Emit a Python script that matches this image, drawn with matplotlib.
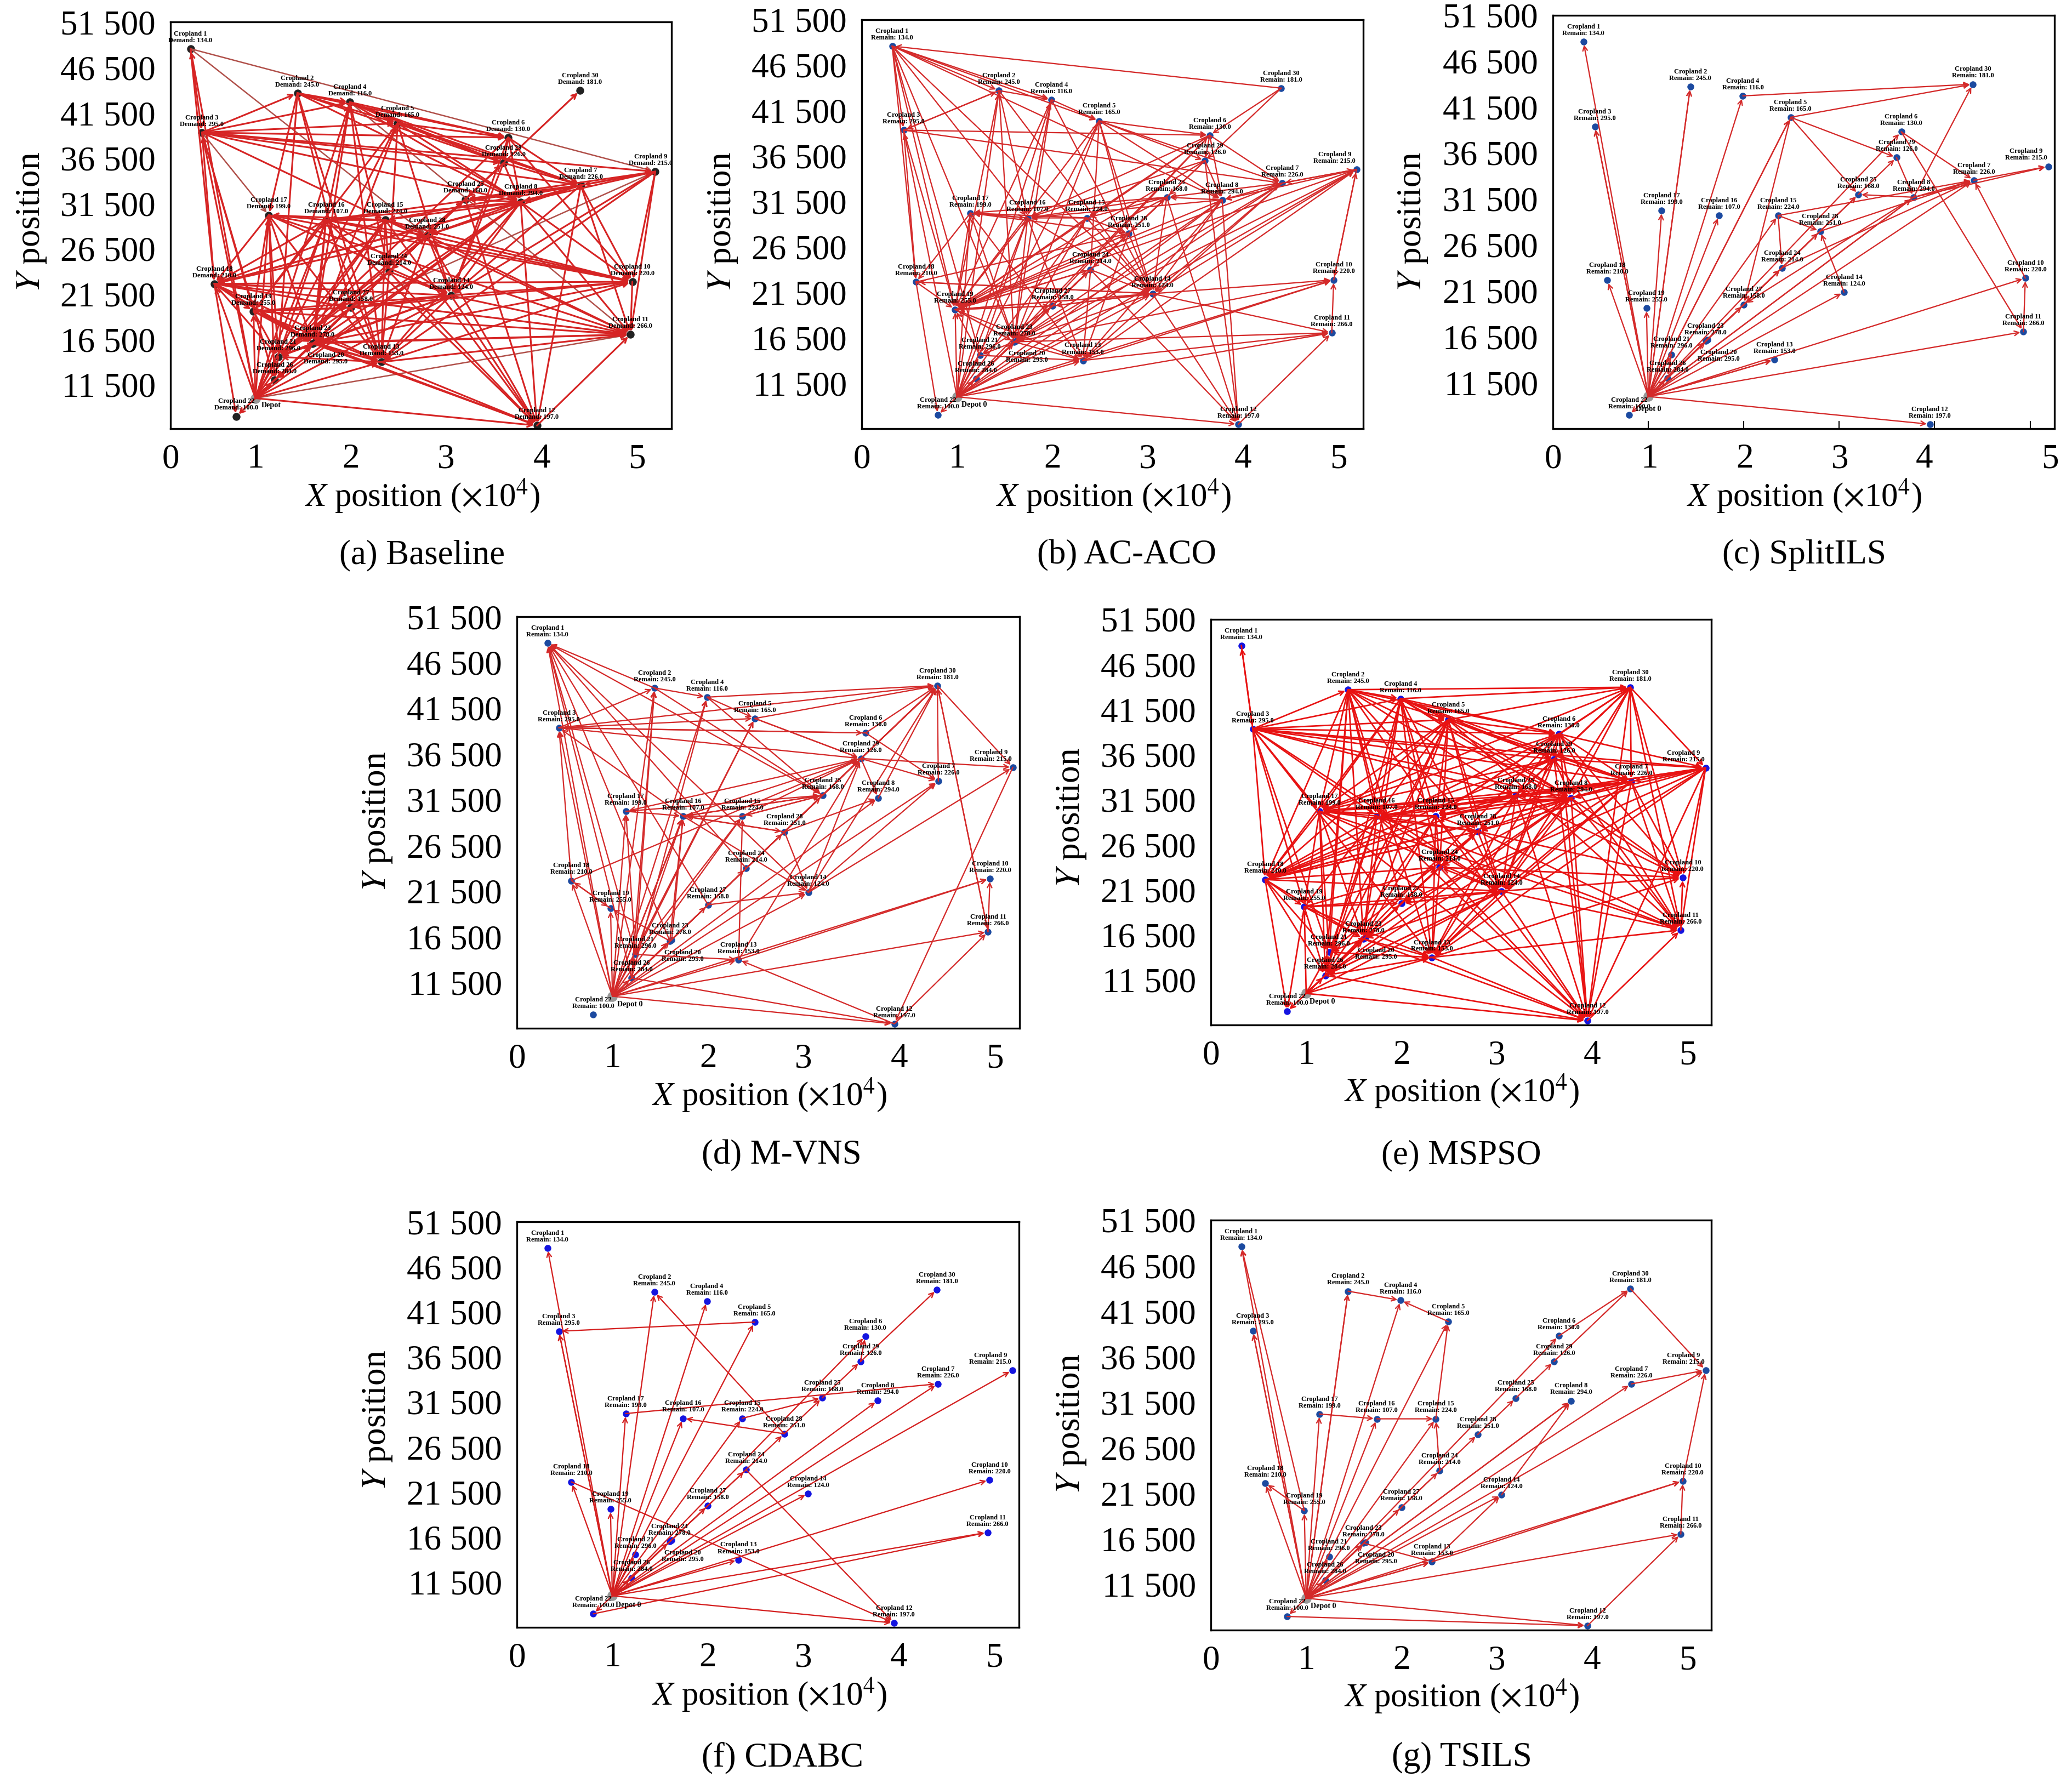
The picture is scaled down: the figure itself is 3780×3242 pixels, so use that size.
import matplotlib
matplotlib.use('Agg')
import matplotlib.pyplot as plt

plt.rcParams['font.family'] = ['Liberation Serif', 'DejaVu Serif']
plt.rcParams['mathtext.fontset'] = 'stix'

W, H = 3780, 3242
DPI = 300

# node data, x in 1e4 units, id 0 is the depot
node_x = [1.00, 0.32, 1.44, 0.44, 1.99, 2.49, 3.65, 4.41, 3.78, 5.19, 4.95,
          4.93, 3.95, 2.32, 3.05, 2.36, 1.74, 1.14, 0.57, 0.98, 1.62,
          1.24, 0.80, 1.60, 2.40, 3.20, 1.20, 2.00, 2.80, 3.60, 4.40]
node_y = [10000, 48600, 43700, 39350, 42700, 40370, 38790, 33520, 31670, 35030, 22870,
          17040, 6980, 14000, 21350, 29690, 29690, 30220, 22640, 19610, 16150,
          14570, 8000, 16050, 23990, 31970, 12000, 20000, 27980, 35990, 43970]
node_val = [0, 134, 245, 295, 116, 165, 130, 226, 294, 215, 220,
            266, 197, 153, 124, 224, 107, 199, 210, 255, 295,
            296, 100, 278, 214, 168, 284, 158, 251, 126, 181]

y_ticks = [11500, 16500, 21500, 26500, 31500, 36500, 41500, 46500]
y_labels = ['11 500', '16 500', '21 500', '26 500', '31 500', '36 500', '41 500', '46 500', '51 500']
x_labels = ['0', '1', '2', '3', '4', '5']

# routes per panel: source node -> nodes it has an arrow to
edges_a = {
    0: [1, 3, 18, 19, 21, 26, 23, 20, 27, 24, 28, 25, 29, 14, 13, 16, 15, 17, 4, 5, 8, 22, 12],
    1: [3, 18],
    3: [2, 4, 5, 6, 29, 9, 7, 8, 15, 18, 19, 26],
    2: [4, 5, 6, 29, 17, 21, 27, 13, 8],
    4: [5, 6, 29, 7, 8, 16, 23, 13, 24],
    5: [6, 29, 7, 8, 24, 14, 19, 23],
    6: [29, 7, 8, 14, 10, 21],
    29: [30, 7, 8, 25, 28, 26, 14],
    7: [9, 8, 25, 10, 11, 12, 14, 16, 15, 18, 28],
    9: [8, 10, 11, 25, 14, 13, 7],
    8: [15, 16, 25, 10, 11, 12, 14, 13, 23, 18, 26, 28],
    25: [28, 24, 23, 12, 21, 20],
    15: [16, 17, 28, 24, 12, 11, 10, 18, 23, 13, 21],
    16: [17, 18, 19, 14, 13, 12, 20, 28, 10, 21, 23],
    17: [18, 19, 21, 23, 14, 13, 10, 11, 26],
    18: [19, 14, 10, 11, 23, 20, 21, 22, 27, 13],
    19: [23, 20, 27, 14, 13, 11, 21],
    28: [27, 24, 23, 21, 20, 13, 14, 10, 11, 12, 18],
    24: [27, 14, 23, 20, 21, 26, 13, 12],
    14: [27, 10, 11, 12, 13, 23, 21],
    27: [23, 20, 21, 19, 13, 10, 14],
    23: [20, 21, 13, 12, 11, 26, 10],
    20: [21, 26, 13, 12, 11],
    13: [12, 11, 10, 21],
    21: [26],
    10: [11],
    12: [11],
}
muted_a = {1: [9, 28], 0: [11], 3: [17], 29: [30], 4: [11], 18: [11], 27: [9], 28: [10]}

edges_b = {
    0: [22, 12, 3, 19, 17, 2, 4, 5, 16, 23, 20, 26, 21, 15, 27, 24, 28, 25, 6, 8, 7, 14, 13, 10, 11, 9],
    1: [2, 4, 3, 18, 19, 21, 23, 16, 14, 5, 8],
    30: [1, 6, 29],
    2: [4, 3, 19, 23, 16, 14],
    3: [2, 6, 7, 18, 19],
    4: [5, 16, 23, 19, 14],
    5: [6, 29, 7, 8, 24, 19, 23, 28, 14],
    6: [7, 29, 8, 23, 16, 15, 19],
    29: [25, 8, 23, 19, 12, 16],
    7: [9, 25, 8, 19, 23, 14, 13],
    9: [10, 7, 8, 14, 23, 19],
    8: [25, 12, 19, 23, 16, 14, 13],
    25: [19, 23, 16, 17, 14, 15, 28, 12],
    15: [16, 17, 23, 19, 28, 14],
    16: [17, 23, 19, 14, 13, 21],
    17: [18, 19, 23, 16, 13],
    18: [19, 22, 14, 28],
    19: [23, 27, 14, 24, 13],
    28: [19, 23, 14, 24, 13, 17],
    24: [23, 19, 14, 12, 13],
    14: [19, 23, 27, 10, 11, 18, 12],
    27: [19, 23, 14, 21],
    23: [19, 13, 11, 21, 10],
    21: [13, 19],
    13: [11, 10, 9],
    12: [11],
    11: [10],
    10: [9],
}

edges_c = {
    0: [1, 3, 3, 2, 2, 4, 17, 16, 18, 19, 5, 5, 21, 26, 23, 20, 27, 24, 15, 28, 8, 8, 7, 14, 13, 13, 10, 11, 12, 22, 6, 25],
    21: [26],
    5: [27, 30, 29, 25],
    4: [30],
    6: [7, 11],
    25: [29],
    15: [24, 28, 7],
    28: [7, 27, 25],
    8: [30, 25, 7, 9, 27],
    7: [9],
    14: [28],
    10: [7],
    11: [10],
    29: [8],
    27: [24],
    24: [7],
    23: [28],
}

edges_d = {
    0: [3, 17, 18, 19, 21, 26, 23, 20, 27, 24, 28, 25, 29, 16, 16, 16, 4, 2, 5, 8, 7, 13, 14, 10, 11, 12, 15, 1],
    26: [1, 4, 2, 12, 21],
    21: [1, 2, 5, 13, 15, 16, 17],
    23: [1, 19, 16],
    27: [1, 14, 29],
    24: [1, 29, 30],
    14: [1, 7, 9, 29, 30],
    25: [1, 30, 29, 15, 16],
    2: [1, 4, 25],
    3: [2, 5, 30, 29, 6],
    16: [3, 14, 28, 29, 25],
    6: [3, 30, 7],
    4: [5, 30, 25],
    5: [30, 29, 29],
    29: [30, 30, 30, 8, 9, 7, 17],
    28: [30, 29, 8, 14, 16],
    7: [30],
    30: [9, 11],
    8: [30],
    11: [30, 10],
    13: [10, 15, 29],
    9: [12],
    12: [11, 13],
    18: [3, 19, 29],
    19: [18],
    17: [16, 25],
    15: [16, 25, 29],
    20: [16],
}

edges_e = {
    0: [19, 22, 26, 21, 23, 20, 27, 24, 12, 14, 13, 28],
    1: [3],
    3: [1, 2, 4, 5, 6, 29, 9, 7, 8, 25, 16, 18, 19, 17, 21, 14, 13],
    2: [4, 5, 6, 30, 17, 16, 15, 18, 23, 21, 26, 27, 13, 25, 8, 28],
    4: [5, 6, 29, 30, 7, 8, 17, 16, 15, 18, 26, 23, 13, 24, 14, 10],
    5: [6, 30, 29, 8, 7, 18, 17, 16, 15, 28, 23, 26, 21, 14, 24, 11],
    6: [29, 30, 7, 8, 9, 25, 15, 17, 18, 26, 14, 10, 11, 12],
    30: [9, 7, 8, 25, 29, 28, 15, 14, 24, 17, 12, 10, 11],
    29: [7, 9, 8, 25, 17, 16, 28, 18, 23, 14, 13, 12, 11, 24],
    7: [9, 8, 25, 10, 11, 16, 15, 17, 18, 14, 13, 26, 12],
    9: [8, 25, 10, 11, 12, 14, 27, 13, 7, 28, 16],
    8: [25, 10, 11, 12, 16, 15, 17, 18, 14, 13, 26, 23, 24, 28],
    25: [17, 16, 15, 28, 18, 14, 12, 24, 23, 26, 13, 10],
    28: [15, 16, 17, 24, 27, 14, 11, 10, 18, 26, 23, 21],
    15: [16, 17, 24, 14, 12, 18, 13, 23, 26],
    16: [17, 18, 19, 14, 12, 23, 26, 21, 11],
    17: [18, 19, 21, 26, 23, 11, 12, 14],
    18: [19, 22, 21, 26, 23, 14, 24, 28],
    19: [23, 26, 14, 27, 24, 13, 22],
    14: [24, 27, 23, 26, 13, 11, 12, 10],
    24: [27, 23, 26, 13, 12, 10],
    23: [26, 21, 13, 12, 20],
    13: [12, 11, 10, 26, 21],
    26: [12, 21, 14],
    12: [11],
    11: [10],
}

edges_f = {
    0: [1, 3, 3, 2, 4, 5, 17, 16, 19, 18, 15, 23, 21, 26, 27, 24, 28, 6, 8, 7, 14, 9, 13, 10, 11, 12, 22],
    5: [3],
    28: [16, 25, 2],
    15: [25],
    17: [7],
    24: [12],
    18: [12],
    29: [6, 30],
    25: [29],
    22: [11],
}

edges_g = {
    0: [1, 3, 3, 18, 19, 17, 2, 2, 4, 5, 16, 15, 21, 26, 23, 20, 27, 24, 28, 6, 8, 8, 7, 14, 9, 13, 13, 10, 11, 12, 22],
    19: [1, 18],
    17: [16],
    16: [15],
    2: [4],
    5: [4],
    15: [5],
    23: [13],
    13: [14, 10],
    14: [8],
    24: [15],
    28: [25],
    25: [29],
    29: [30],
    6: [30],
    30: [9],
    7: [9],
    11: [10],
    10: [9],
    12: [11],
    22: [12],
}

NAVY = '#1c4aa0'
BLUE = '#1414e0'
panels = [
    dict(edges=edges_a, muted=muted_a, box=(311, 40, 1225, 782), xlim=(0.11, 5.36), ylim=(6640, 51565),
         word='Demand', depot='Depot', node='#222222', lw=0.75, col='#d62424', node_s=12, shift9=-2,
         ylab=(58, 405), xlab=(771, 905), cap=(770, 1013), title='(a) Baseline', dep=(2.5, -3.2, 'left')),
    dict(edges=edges_b, box=(1572, 36, 2487, 782), xlim=(0, 5.26), ylim=(6500, 51500),
         word='Remain', depot='Depot 0', node=NAVY, lw=0.55, col='#d42a2a',
         ylab=(1319, 405), xlab=(2032, 905), cap=(2055, 1013), title='(b) AC-ACO', dep=(2, -3.5, 'left')),
    dict(edges=edges_c, box=(2833, 28, 3748, 782), xlim=(0, 5.255), ylim=(6500, 51460),
         word='Remain', depot='Depot 0', node=NAVY, lw=0.55, col='#d42a2a',
         xpos=[0, 1.01, 2.01, 3.01, 3.89, 5.21],
         ylab=(2578, 405), xlab=(3292, 905), cap=(3291, 1013), title='(c) SplitILS', dep=(0, -5.5, 'center')),
    dict(edges=edges_d, box=(943, 1125, 1860, 1876), xlim=(0, 5.26), ylim=(6500, 51500),
         word='Remain', depot='Depot 0', node=NAVY, lw=0.55, col='#d42a2a',
         ylab=(689, 1499), xlab=(1404, 1998), cap=(1426, 2108), title='(d) M-VNS', dep=(2, -3.5, 'left')),
    dict(edges=edges_e, box=(2209, 1130, 3122, 1870), xlim=(0, 5.25), ylim=(6500, 51500),
         word='Remain', depot='Depot 0', node=BLUE, lw=0.65, col='#e81212',
         ylab=(1955, 1492), xlab=(2667, 1991), cap=(2666, 2108), title='(e) MSPSO', dep=(1.5, -3.5, 'left')),
    dict(edges=edges_f, box=(943, 2229, 1859, 2969), xlim=(0, 5.26), ylim=(6500, 51500),
         word='Remain', depot='Depot 0', node=BLUE, lw=0.55, col='#d42020',
         ylab=(689, 2591), xlab=(1404, 3092), cap=(1427, 3207), title='(f) CDABC', dep=(1.5, -4, 'left')),
    dict(edges=edges_g, box=(2209, 2226, 3122, 2974), xlim=(0, 5.25), ylim=(6500, 51500),
         word='Remain', depot='Depot 0', node=NAVY, lw=0.55, col='#d42a2a',
         ylab=(1955, 2598), xlab=(2667, 3095), cap=(2667, 3207), title='(g) TSILS', dep=(2, -3.5, 'left')),
]


def draw_edges(ax, edges, col, lw):
    for src, targets in edges.items():
        for dst in targets:
            ax.annotate('', xy=(node_x[dst], node_y[dst]), xytext=(node_x[src], node_y[src]),
                        annotation_clip=False, zorder=3,
                        arrowprops=dict(arrowstyle='->', color=col, lw=lw, mutation_scale=5,
                                        shrinkA=0, shrinkB=1.4))


def draw_panel(fig, p):
    l, t, r, b = p['box']
    ax = fig.add_axes([l / W, 1 - b / H, (r - l) / W, (b - t) / H])
    ax.set_xlim(p['xlim'])
    ax.set_ylim(p['ylim'])

    # real tick marks are minor, the labels sit on major ticks without a mark
    xmin, xmax = p['xlim']
    ymin, ymax = p['ylim']
    ax.set_xticks([1, 2, 3, 4, 5], minor=True)
    ax.set_yticks(y_ticks, minor=True)
    ax.set_xticks(p.get('xpos', [xmin, 1, 2, 3, 4, 5]), labels=x_labels)
    ax.set_yticks(y_ticks + [ymax], labels=y_labels)
    ax.tick_params(which='major', length=0, pad=6.5, labelsize=15.2)
    ax.tick_params(which='minor', direction='in', length=3.4, width=0.5)
    for s in ax.spines.values():
        s.set_linewidth(0.8)

    for i in range(1, 31):
        ax.scatter(node_x[i], node_y[i], s=p.get('node_s', 9), color=p['node'], zorder=2,
                   clip_on=False, linewidths=0)
        txt = f"Cropland {i}\n{p['word']}: {node_val[i]}.0"
        if i == 20:
            # this one is written below its point, 23 sits right on top of it
            ax.annotate(txt, (node_x[i], node_y[i]), xytext=(4.8, -7), textcoords='offset points',
                        ha='center', va='center', fontsize=3.0, fontweight='bold',
                        linespacing=1.0, zorder=4)
        else:
            # node 9 is at the right edge, its label is pulled back inside the frame
            dx = p.get('shift9', -9.6) if i == 9 else 0
            ax.annotate(txt, (node_x[i], node_y[i]), xytext=(dx, 2.2), textcoords='offset points',
                        ha='center', va='bottom', fontsize=3.0, fontweight='bold',
                        linespacing=1.0, zorder=4)
    ax.scatter(node_x[0], node_y[0], s=20, color='#999999', zorder=2, linewidths=0)
    dx, dy, ha = p['dep']
    ax.annotate(p['depot'], (node_x[0], node_y[0]), xytext=(dx, dy), textcoords='offset points',
                ha=ha, va='center', fontsize=3.4, fontweight='bold', zorder=4)

    if 'muted' in p:
        draw_edges(ax, p['muted'], '#b0504a', 0.6)
    draw_edges(ax, p['edges'], p['col'], p['lw'])

    fig.text(p['xlab'][0] / W, 1 - p['xlab'][1] / H, r'$\mathit{X}$ position ($\times$10$^{4}$)',
             fontsize=14.6, ha='center', va='center')
    fig.text(p['ylab'][0] / W, 1 - p['ylab'][1] / H, r'$\mathit{Y}$ position',
             fontsize=15.2, ha='center', va='center', rotation=90)
    fig.text(p['cap'][0] / W, 1 - p['cap'][1] / H, p['title'], fontsize=15.1, ha='center', va='center')


def main():
    fig = plt.figure(figsize=(W / DPI, H / DPI), dpi=DPI)
    for p in panels:
        draw_panel(fig, p)
    fig.savefig('out.png', dpi=DPI)


if __name__ == '__main__':
    main()
